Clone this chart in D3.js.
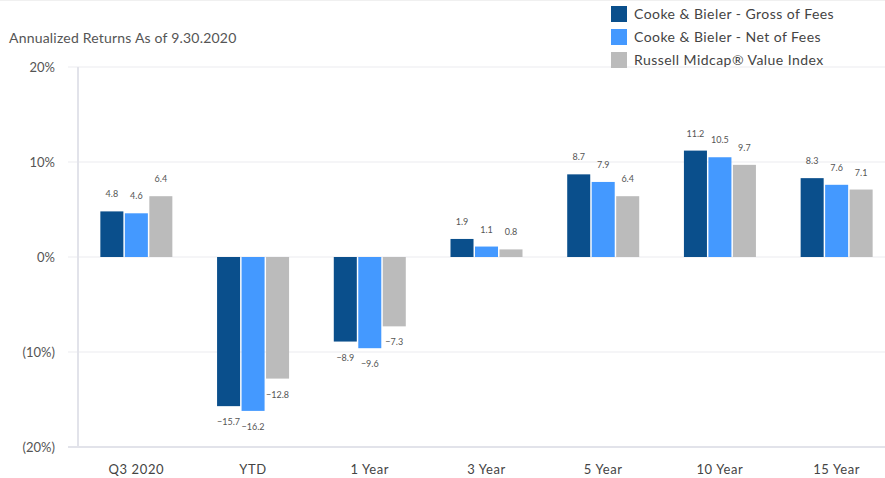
<!DOCTYPE html>
<html><head><meta charset="utf-8">
<script src="https://cdn.jsdelivr.net/npm/d3@7"></script>
<style>body{margin:0;background:#fff}svg{display:block;font-family:Lato,"Open Sans",sans-serif}</style>
</head><body><svg id="c" width="885" height="478"></svg>
<script>
const categories = ["Q3 2020","YTD","1 Year","3 Year","5 Year","10 Year","15 Year"];
const seriesNames = ["Cooke & Bieler - Gross of Fees","Cooke & Bieler - Net of Fees","Russell Midcap® Value Index"];
const gross = [4.8,-15.7,-8.9,1.9,8.7,11.2,8.3];
const net = [4.6,-16.2,-9.6,1.1,7.9,10.5,7.6];
const index = [6.4,-12.8,-7.3,0.8,6.4,9.7,7.1];
const yTicks = [20,10,0,-10,-20];
const colors = ["#0a4f8c","#4499ff","#bbbbbb"];
const seriesValues = [gross, net, index];

const svg = d3.select("#c");
const y = d3.scaleLinear().domain([-20,20]).range([447,67]);
const x = d3.scaleBand().domain(categories).range([78,895]);
const gw = 72;
const x1 = d3.scaleBand().domain(d3.range(3)).range([x.bandwidth()/2-gw/2, x.bandwidth()/2+gw/2]).paddingInner(0.06);

svg.append("line").attr("x1",0).attr("x2",885).attr("y1",0.5).attr("y2",0.5).attr("stroke","#f0f0f0");

svg.append("text").attr("x",9).attr("y",43).attr("font-size",14).attr("letter-spacing",0.2).attr("fill","#555").text("Annualized Returns As of 9.30.2020");

const yAxis = d3.axisLeft(y).tickValues(yTicks).tickSize(0).tickFormat(d => d<0 ? `(${-d}%)` : `${d}%`);
const ga = svg.append("g").attr("transform","translate(55,0)").call(yAxis);
ga.select(".domain").remove();
ga.selectAll("text").attr("font-size",13).attr("fill","#555").attr("x",0).attr("font-family","Lato,sans-serif");
svg.append("g").selectAll("line").data(yTicks).join("line")
  .attr("x1",68).attr("x2",885).attr("y1",d=>y(d)).attr("y2",d=>y(d))
  .attr("stroke",d=>d===-20?"#e2e3ea":"#f2f2f4").attr("stroke-width",d=>d===-20?2:1.5);
svg.append("line").attr("x1",78).attr("x2",78).attr("y1",y(20)).attr("y2",y(-20)).attr("stroke","#e2e3ea").attr("stroke-width",2);

const groups = svg.append("g").selectAll("g").data(categories).join("g")
  .attr("transform",c=>`translate(${x(c)},0)`);
groups.each(function(c,i){
  const g = d3.select(this);
  seriesValues.forEach((vals,s)=>{
    const v = vals[i];
    g.append("rect").attr("x",x1(s)).attr("width",x1.bandwidth())
      .attr("y",y(Math.max(0,v))).attr("height",Math.abs(y(v)-y(0))).attr("fill",colors[s]);
    g.append("text").attr("x",x1(s)+x1.bandwidth()/2).attr("text-anchor","middle")
      .attr("y", v>=0 ? y(v)-14 : y(v)+19).attr("font-size",9).attr("fill","#555")
      .text(d3.format(".1f")(v));
  });
});

svg.append("g").selectAll("text").data(categories).join("text")
  .attr("x",c=>x(c)+x.bandwidth()/2).attr("y",474).attr("text-anchor","middle")
  .attr("font-size",13).attr("letter-spacing",0.6).attr("fill","#444").text(d=>d);

const lg = svg.append("g").selectAll("g").data(seriesNames).join("g")
  .attr("transform",(d,i)=>`translate(611,${6+i*23})`);
lg.append("rect").attr("width",16).attr("height",16).attr("fill",(d,i)=>colors[i]);
lg.append("text").attr("x",23).attr("y",13).attr("font-size",14).attr("letter-spacing",0.45).attr("fill","#444").text(d=>d);
</script></body></html>
